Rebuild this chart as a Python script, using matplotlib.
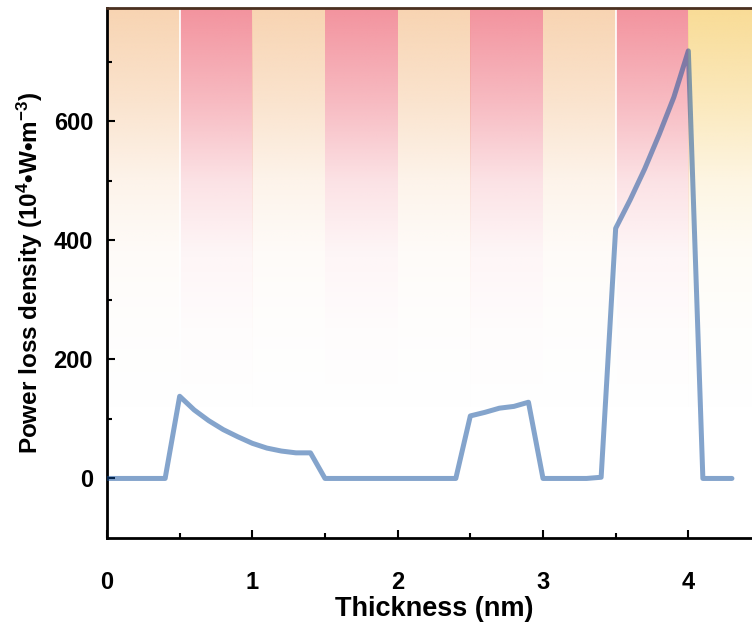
import numpy as np
import matplotlib
matplotlib.use("Agg")
import matplotlib.pyplot as plt
from matplotlib.colors import to_rgb

plt.rcParams['font.family'] = ['Liberation Sans', 'DejaVu Sans']
plt.rcParams['mathtext.fontset'] = 'custom'
plt.rcParams['mathtext.rm'] = 'Liberation Sans:bold'
plt.rcParams['mathtext.bf'] = 'Liberation Sans:bold'
plt.rcParams['mathtext.default'] = 'rm'

# Power loss density profile across the stack (x in nm, y in 10^4 W/m^3)
thickness = [0.0, 0.1, 0.2, 0.3, 0.4, 0.5, 0.6, 0.7, 0.8, 0.9, 1.0, 1.1, 1.2,
             1.3, 1.4, 1.5, 1.6, 1.7, 1.8, 1.9, 2.0, 2.1, 2.2, 2.3, 2.4, 2.5,
             2.6, 2.7, 2.8, 2.9, 3.0, 3.1, 3.2, 3.3, 3.4, 3.5, 3.6, 3.7, 3.8,
             3.9, 4.0, 4.1, 4.2, 4.3]
power_loss = [0, 0, 0, 0, 0, 138, 115, 97, 82, 70, 59, 51, 46,
              43, 43, 0, 0, 0, 0, 0, 0, 0, 0, 0, 0, 105,
              111, 118, 121, 128, 0, 0, 0, 0, 2, 420, 468, 520, 578,
              640, 718, 0, 0, 0]

# Layer bands: edges and top colour of each band
band_edges = [0.0, 0.5, 1.0, 1.5, 2.0, 2.5, 3.0, 3.5, 4.0, 4.5]
band_colors = ['#f8d4b2', '#f3939e', '#f8d4b2', '#f3939e', '#f8d4b2',
               '#f3939e', '#f8d4b2', '#f3939e', '#f9dc96']

x_ticks = [0, 1, 2, 3, 4]
y_ticks = [0, 200, 400, 600]
x_lim = (0, 4.5)
y_lim = (-100, 790)

fig = plt.figure(figsize=(7.52, 6.28), dpi=100)
ax = fig.add_axes([107 / 752, 90 / 628, 654 / 752, 530 / 628])
ax.set_xlim(*x_lim)
ax.set_ylim(*y_lim)

# vertical gradient: full colour at top fading to white lower down
vals = np.linspace(y_lim[0], y_lim[1], 400)
alpha = np.interp(vals, [100, 250, 380, 500, 635, 790],
                  [0.0, 0.03, 0.09, 0.27, 0.64, 1.0])
for (x0, x1, c) in zip(band_edges[:-1], band_edges[1:], band_colors):
    rgba = np.zeros((len(vals), 1, 4))
    rgba[:, 0, :3] = to_rgb(c)
    rgba[:, 0, 3] = alpha
    ax.imshow(rgba, extent=[x0, x1, y_lim[0], y_lim[1]], origin='lower',
              aspect='auto', interpolation='bilinear', zorder=0)
for xv in (0.5, 3.5):
    ax.axvline(xv, color='white', lw=1.2, zorder=0.5)

ax.plot(thickness, power_loss, color='#0a4a9a', alpha=0.5, lw=3.6,
        solid_joinstyle='round', solid_capstyle='round', zorder=3)

ax.set_xticks(x_ticks)
ax.set_yticks(y_ticks)
ax.set_xticks(np.arange(0.5, 4.5, 1.0), minor=True)
ax.set_yticks([100, 300, 500, 700], minor=True)
ax.tick_params(which='major', direction='in', length=6, width=1.5,
               labelsize=17)
ax.tick_params(which='minor', direction='in', length=3.5, width=1.5)
ax.tick_params(axis='x', which='major', pad=24)
ax.tick_params(axis='y', which='major', pad=10)
for lab in ax.get_xticklabels() + ax.get_yticklabels():
    lab.set_fontweight('bold')

for side in ('left', 'bottom'):
    ax.spines[side].set_linewidth(2)
    ax.spines[side].set_color('black')
ax.spines['top'].set_linewidth(2)
ax.spines['top'].set_color('#4a3020')
ax.spines['right'].set_visible(False)

ax.set_xlabel('Thickness (nm)', fontsize=19.5, fontweight='bold', labelpad=1)
ax.set_ylabel('Power loss density (10$^{4}$•W•m$^{-3}$)', fontsize=17.5,
              fontweight='bold', labelpad=6)

fig.savefig('out.png', dpi=100)
